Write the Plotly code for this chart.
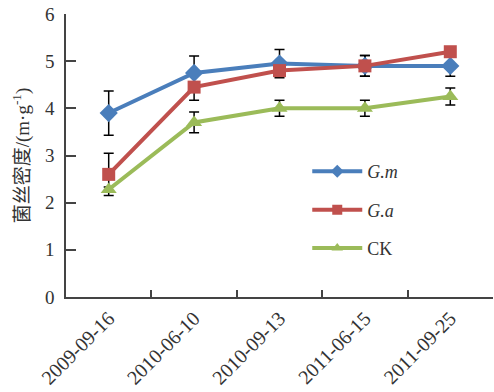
import plotly.graph_objects as go

dates = ["2009-09-16", "2010-06-10", "2010-09-13", "2011-06-15", "2011-09-25"]
gm = [3.9, 4.75, 4.95, 4.9, 4.9]
gm_err = [0.47, 0.36, 0.3, 0.22, 0.22]
ga = [2.6, 4.45, 4.8, 4.9, 5.2]
ga_err = [0.45, 0.28, 0.1, 0.22, 0.1]
ck = [2.28, 3.7, 4.0, 4.0, 4.25]
ck_err = [0.05, 0.22, 0.17, 0.17, 0.18]

series = [
    ("<i>G.m</i>", gm, gm_err, "#4A7EBB", "diamond", 14),
    ("<i>G.a</i>", ga, ga_err, "#C0504D", "square", 13),
    ("CK", ck, ck_err, "#9BBB59", "triangle-up", 14),
]

fig = go.Figure()
for name, vals, err, col, sym, sz in series:
    fig.add_trace(go.Scatter(
        x=dates, y=vals, mode="markers", marker=dict(size=1, opacity=0),
        error_y=dict(type="data", array=err, visible=True, color="black", thickness=1.5, width=5),
        showlegend=False, hoverinfo="skip"))
for i, (name, vals, err, col, sym, sz) in enumerate(series):
    fig.add_trace(go.Scatter(
        x=dates, y=vals, mode="lines+markers", name=name, showlegend=False,
        line=dict(color=col, width=4),
        marker=dict(symbol=sym, size=sz, color=col)))
    # legend-only entry with smaller marker, as in the reference legend
    fig.add_trace(go.Scatter(
        x=[None], y=[None], mode="lines+markers", name=name, legendgroup=str(i),
        line=dict(color=col, width=4),
        marker=dict(symbol=sym, size=10, color=col)))

font = "Liberation Serif, Times New Roman, serif"
fig.update_layout(
    width=494, height=392,
    margin=dict(l=66, r=1, t=14, b=95),
    paper_bgcolor="white", plot_bgcolor="white",
    font=dict(family=font, size=15, color="#333333"),
    legend=dict(x=0.565, y=0.307, xanchor="left", yanchor="middle",
                bgcolor="rgba(0,0,0,0)", tracegroupgap=12, itemwidth=50,
                font=dict(family=font, size=18, color="#333333")),
    xaxis=dict(type="category", range=[-0.5, 4.5], tickson="boundaries",
               ticks="inside", ticklen=7, tickwidth=1.5, tickcolor="#444",
               showline=True, linecolor="#444", linewidth=1.5, mirror=False,
               showgrid=False, tickangle=-45, tickfont=dict(size=20),
               automargin=False),
    yaxis=dict(range=[0, 6], dtick=1, ticks="inside", ticklen=10, tickwidth=1.5,
               tickcolor="#444", showline=True, linecolor="#444", linewidth=1.5,
               showgrid=False, zeroline=False, tickfont=dict(size=19),
               ticklabelstandoff=6, automargin=False,
               title=dict(text="菌丝密度/(m·g<sup>-1</sup>)", standoff=10,
                          font=dict(family=font + ", Noto Sans CJK SC", size=19))),
)
fig.write_html("out.html", config={"displayModeBar": False},
               post_script="document.body.style.margin='0';")
